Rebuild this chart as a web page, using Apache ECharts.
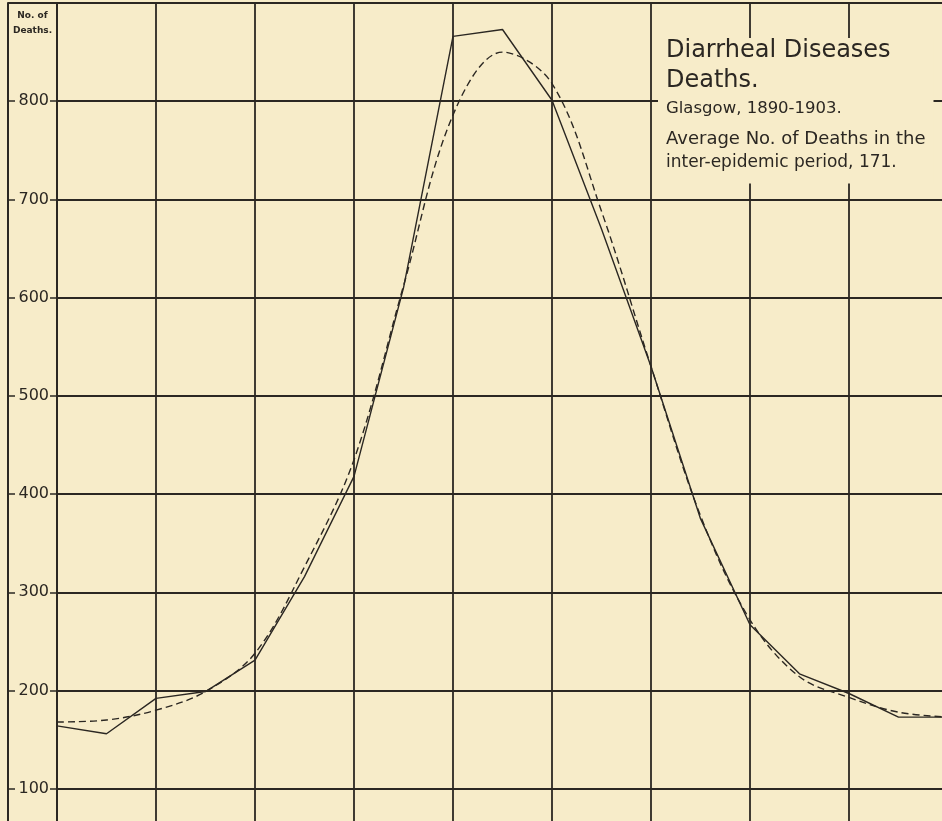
<!DOCTYPE html>
<html>
<head>
<meta charset="utf-8">
<title>Diarrheal Diseases Deaths — Glasgow, 1890-1903</title>
<script src="https://cdn.jsdelivr.net/npm/echarts@6/dist/echarts.min.js"></script>
<style>
  html, body { margin: 0; padding: 0; background: #f7ecc9; }
  #chart { width: 942px; height: 821px; }
</style>
</head>
<body>
<div id="chart"></div>
<script>
// Half-interval periods along the x-axis (two periods per grid column)
const periods = [0, 1, 2, 3, 4, 5, 6, 7, 8, 9, 10, 11, 12, 13, 14, 15, 16, 17, 18];

// Observed number of deaths (solid line)
const observedDeaths = [164, 156, 192, 199, 231, 316, 418, 610, 866, 873, 801, 670, 530, 375, 267, 217, 197, 173, 173];

// Smoothed curve of deaths (dashed line)
const smoothedDeaths = [168, 170, 180, 199, 238, 326, 435, 612, 786, 850, 818, 688, 530, 378, 272, 214, 193, 178, 173];

// Tick values shown on the y-axis
const yTickLabels = [100, 200, 300, 400, 500, 600, 700, 800];

const ink = '#2b2722';
const paper = '#f7ecc9';
const font = 'DejaVu Sans';

const chart = echarts.init(document.getElementById('chart'), null, { renderer: 'canvas' });

chart.setOption({
  backgroundColor: paper,
  animation: false,
  grid: { left: 57, right: -6, top: 3, bottom: -66, containLabel: false, outerBoundsMode: 'none' },
  xAxis: {
    type: 'value',
    min: 0,
    max: 18,
    interval: 2,
    axisLine: { show: false },
    axisTick: { show: false },
    axisLabel: { show: false },
    splitLine: { show: true, lineStyle: { color: ink, width: 1.8 } }
  },
  yAxis: [
    {
      type: 'value',
      min: 0,
      max: 900,
      interval: 100,
      position: 'left',
      axisLine: { show: true, lineStyle: { color: ink, width: 2 } },
      axisTick: { show: true, length: 7, lineStyle: { color: ink, width: 1.5 } },
      axisLabel: {
        show: true,
        margin: 8,
        color: ink,
        fontFamily: font,
        fontSize: 16,
        formatter: v => (yTickLabels.indexOf(v) >= 0 ? String(v) : '')
      },
      splitLine: { show: true, lineStyle: { color: ink, width: 2 } }
    },
    {
      type: 'value',
      min: 0,
      max: 900,
      interval: 100,
      position: 'left',
      offset: 49,
      axisLine: { show: true, lineStyle: { color: ink, width: 2 } },
      axisTick: { show: true, inside: true, length: 7, lineStyle: { color: ink, width: 1.5 } },
      axisLabel: { show: false },
      splitLine: { show: false }
    }
  ],
  title: [
    {
      left: 658,
      top: 35,
      padding: [1, 8, 12, 8],
      backgroundColor: paper,
      text: '{t|Diarrheal Diseases}\n{t2|Deaths.}\n{s1|Glasgow, 1890-1903.}\n{s2|Average No. of Deaths in the}\n{s3|inter-epidemic period, 171.}',
      textStyle: {
        fontWeight: 'normal',
        rich: {
          t:  { fontFamily: font, fontWeight: 'normal', fontSize: 24, color: ink, lineHeight: 30 },
          t2: { fontFamily: font, fontWeight: 'normal', fontSize: 24, color: ink, lineHeight: 29 },
          s1: { fontFamily: font, fontWeight: 'normal', fontSize: 16.5, color: ink, lineHeight: 27 },
          s2: { fontFamily: font, fontWeight: 'normal', fontSize: 18, color: ink, lineHeight: 35 },
          s3: { fontFamily: font, fontWeight: 'normal', fontSize: 17, color: ink, lineHeight: 12 }
        }
      }
    }
  ],
  graphic: [
    {
      type: 'line',
      shape: { x1: 8, y1: 3, x2: 57, y2: 3 },
      style: { stroke: ink, lineWidth: 2 },
      z: 10
    },
    {
      type: 'text',
      x: 32.5,
      y: 16,
      style: {
        text: 'No. of',
        fill: ink,
        font: 'bold 9px "DejaVu Sans"',
        textAlign: 'center',
        textVerticalAlign: 'middle'
      }
    },
    {
      type: 'text',
      x: 32.5,
      y: 30.5,
      style: {
        text: 'Deaths.',
        fill: ink,
        font: 'bold 9px "DejaVu Sans"',
        textAlign: 'center',
        textVerticalAlign: 'middle'
      }
    }
  ],
  series: [
    {
      name: 'Observed',
      type: 'line',
      data: periods.map((p, i) => [p, observedDeaths[i]]),
      showSymbol: false,
      symbol: 'none',
      clip: true,
      lineStyle: { color: ink, width: 1.4, type: 'solid' },
      z: 3
    },
    {
      name: 'Smoothed',
      type: 'line',
      data: periods.map((p, i) => [p, smoothedDeaths[i]]),
      showSymbol: false,
      symbol: 'none',
      smooth: 0.35,
      clip: true,
      lineStyle: { color: ink, width: 1.4, type: [7, 4] },
      z: 3
    }
  ]
});
</script>
</body>
</html>
